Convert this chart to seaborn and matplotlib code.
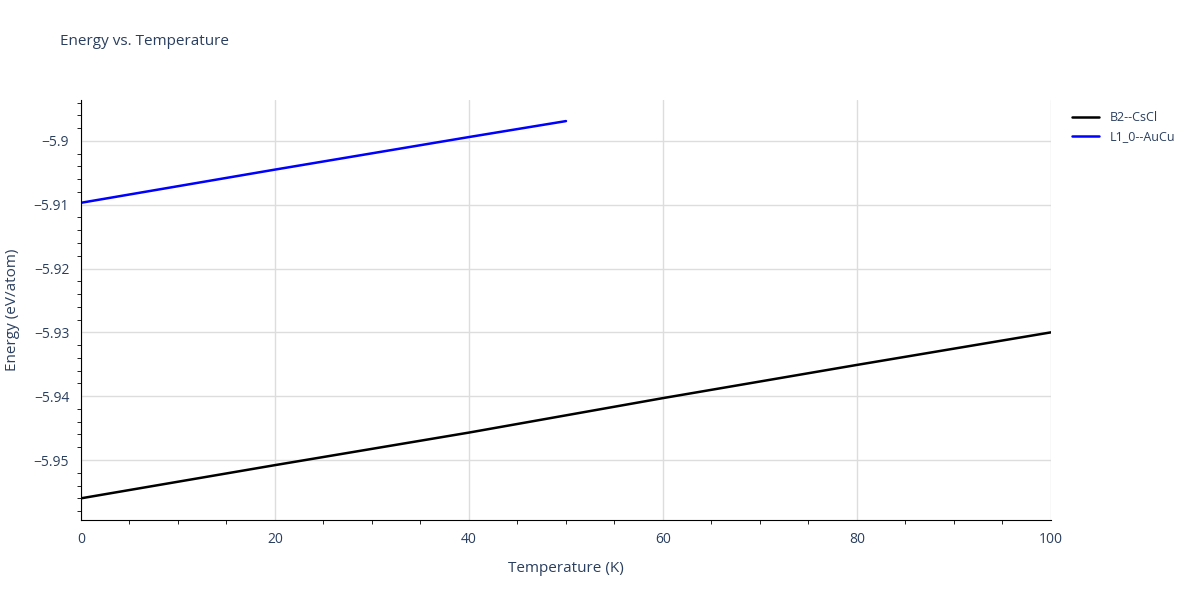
import numpy as np
import pandas as pd
import matplotlib
matplotlib.use('Agg')
import matplotlib.pyplot as plt
from matplotlib.ticker import MultipleLocator, FuncFormatter
import seaborn as sns

# values
b2_temp = [0, 20, 40, 60, 80, 100]
b2_energy = [-5.9560, -5.9508, -5.9457, -5.9403, -5.9351, -5.9300]
l10_temp = [0, 20, 40, 50]
l10_energy = [-5.9097, -5.9045, -5.8994, -5.8969]

df = pd.concat([
	pd.DataFrame({'T': b2_temp, 'E': b2_energy, 'phase': 'B2--CsCl'}),
	pd.DataFrame({'T': l10_temp, 'E': l10_energy, 'phase': 'L1_0--AuCu'}),
])

sns.set_style('white')
plt.rcParams['font.family'] = ['Open Sans', 'DejaVu Sans']
text_col = '#2a3f5f'

fig = plt.figure(figsize = (12, 6), dpi = 100)
ax = fig.add_axes([0.0675, 0.1333, 0.8083, 0.7])
sns.lineplot(data = df, x = 'T', y = 'E', hue = 'phase', palette = ['black', 'blue'], linewidth = 1.8, ax = ax)

ax.set_xlim(0, 100)
ax.set_ylim(-5.9594, -5.8936)
ax.xaxis.set_major_locator(MultipleLocator(20))
ax.xaxis.set_minor_locator(MultipleLocator(5))
ax.yaxis.set_major_locator(MultipleLocator(0.01))
ax.yaxis.set_minor_locator(MultipleLocator(0.002))
ax.yaxis.set_major_formatter(FuncFormatter(lambda v, p: ('%g' % round(v, 3)).replace('-', '\u2212')))
ax.grid(True, which = 'major', color = '#dddddd', linewidth = 1)
for s in ['top', 'right']:
	ax.spines[s].set_visible(False)
for s in ['left', 'bottom']:
	ax.spines[s].set_color('black')
ax.tick_params(which = 'both', direction = 'out', colors = 'black', labelcolor = text_col, labelsize = 10)
ax.tick_params(which = 'major', length = 5)
ax.tick_params(which = 'minor', length = 3, left = True, bottom = True)
ax.set_xlabel('Temperature (K)', color = text_col, fontsize = 11, labelpad = 10)
ax.set_ylabel('Energy (eV/atom)', color = text_col, fontsize = 11, labelpad = 10)

fig.text(0.05, 0.925, 'Energy vs. Temperature', color = text_col, fontsize = 11)
ax.legend(loc = 'upper left', bbox_to_anchor = (1.01, 1.0), frameon = False, fontsize = 9, labelcolor = text_col, handlelength = 2.2)

fig.savefig('out.png', dpi = 100)
